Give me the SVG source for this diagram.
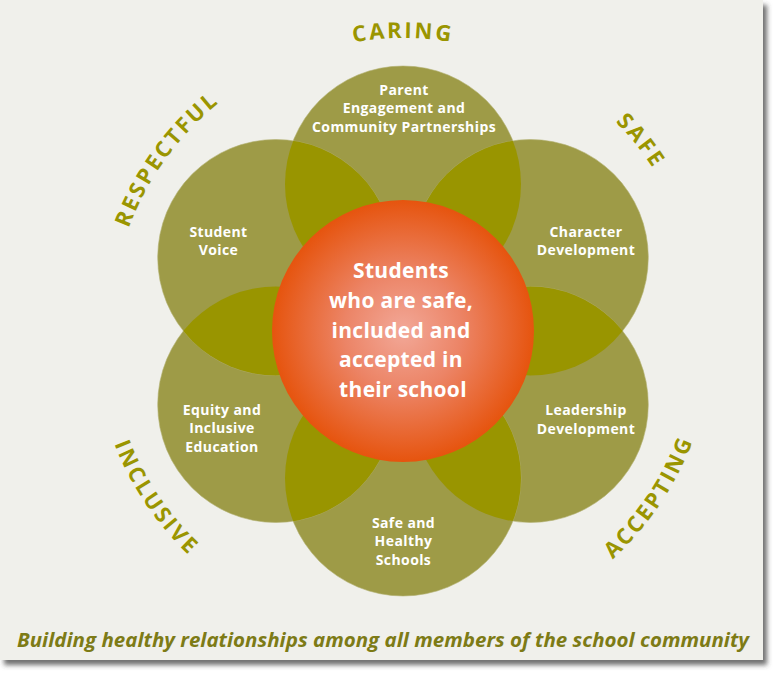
<svg xmlns="http://www.w3.org/2000/svg" width="778" height="676" viewBox="0 0 778 676">
<defs>
<filter id="sh" x="-5%" y="-5%" width="115%" height="115%">
<feDropShadow dx="4" dy="5" stdDeviation="2.5" flood-color="#404040" flood-opacity="0.75"/>
</filter>
<radialGradient id="og" cx="403" cy="331" r="131" gradientUnits="userSpaceOnUse">
<stop offset="0" stop-color="#f2a898"/>
<stop offset="0.45" stop-color="#ec8466"/>
<stop offset="1" stop-color="#e6540e"/>
</radialGradient>
<clipPath id="cT"><circle cx="403" cy="184" r="118"/></clipPath>
<clipPath id="cUR"><circle cx="530.3" cy="257.5" r="118"/></clipPath>
<clipPath id="cLR"><circle cx="530.3" cy="404.5" r="118"/></clipPath>
<clipPath id="cB"><circle cx="403" cy="478" r="118"/></clipPath>
<clipPath id="cLL"><circle cx="275.7" cy="404.5" r="118"/></clipPath>
<clipPath id="cUL"><circle cx="275.7" cy="257.5" r="118"/></clipPath>
<path id="pCaring" d="M149.3,184.5 A293,293 0 0 1 656.7,184.5"/>
<path id="pSafe" d="M357.4,36.8 A298,298 0 0 1 680.9,440.2"/>
<path id="pResp" d="M135.3,450.2 A293,293 0 0 1 433.6,39.6"/>
<path id="pIncl" d="M124.4,195.1 A310,310 0 0 0 424.6,640.3"/>
<path id="pAcc" d="M381.4,640.3 A310,310 0 0 0 681.6,195.1"/>
</defs>
<style>
.petal{fill:#9e9b47;stroke:#b4b174;stroke-width:0.6}
.ov{fill:#999500}
.lbl{font-family:"Open Sans","Liberation Sans",sans-serif;font-weight:bold;font-size:14px;fill:#ffffff;text-anchor:middle;letter-spacing:0.4px}
.ctr{font-family:"Open Sans","Liberation Sans",sans-serif;font-weight:bold;font-size:21px;fill:#ffffff;text-anchor:middle;letter-spacing:0.3px}
.arc{font-family:"Open Sans","Liberation Sans",sans-serif;font-weight:bold;font-size:22px;fill:#9a9500;letter-spacing:2.5px}
.cap{font-family:"Open Sans","Liberation Sans",sans-serif;font-weight:bold;font-style:italic;font-size:20px;fill:#7d7b16}
</style>
<rect x="0" y="0" width="763" height="660" fill="#f0f0eb" filter="url(#sh)"/>

<g id="petal-parent">
<circle class="petal" cx="403" cy="184" r="118"/>
<text class="lbl" x="404" y="95">Parent</text>
<text class="lbl" x="404" y="113">Engagement and</text>
<text class="lbl" x="404" y="131.5">Community Partnerships</text>
</g>
<g id="petal-character">
<circle class="petal" cx="530.3" cy="257.5" r="118"/>
<text class="lbl" x="586" y="236.5">Character</text>
<text class="lbl" x="586" y="255">Development</text>
</g>
<g id="petal-leadership">
<circle class="petal" cx="530.3" cy="404.5" r="118"/>
<text class="lbl" x="586" y="415">Leadership</text>
<text class="lbl" x="586" y="433.5">Development</text>
</g>
<g id="petal-safe">
<circle class="petal" cx="403" cy="478" r="118"/>
<text class="lbl" x="403.5" y="527.5">Safe and</text>
<text class="lbl" x="403.5" y="546">Healthy</text>
<text class="lbl" x="403.5" y="564.5">Schools</text>
</g>
<g id="petal-equity">
<circle class="petal" cx="275.7" cy="404.5" r="118"/>
<text class="lbl" x="222" y="414.5">Equity and</text>
<text class="lbl" x="222" y="433">Inclusive</text>
<text class="lbl" x="222" y="451.5">Education</text>
</g>
<g id="petal-voice">
<circle class="petal" cx="275.7" cy="257.5" r="118"/>
<text class="lbl" x="218.5" y="236.5">Student</text>
<text class="lbl" x="218.5" y="255">Voice</text>
</g>

<g id="overlaps">
<circle class="ov" cx="530.3" cy="257.5" r="118" clip-path="url(#cT)"/>
<circle class="ov" cx="530.3" cy="404.5" r="118" clip-path="url(#cUR)"/>
<circle class="ov" cx="403" cy="478" r="118" clip-path="url(#cLR)"/>
<circle class="ov" cx="275.7" cy="404.5" r="118" clip-path="url(#cB)"/>
<circle class="ov" cx="275.7" cy="257.5" r="118" clip-path="url(#cLL)"/>
<circle class="ov" cx="403" cy="184" r="118" clip-path="url(#cUL)"/>
</g>

<g id="center">
<circle cx="403" cy="331" r="131" fill="url(#og)"/>
<text class="ctr" x="401" y="278">Students</text>
<text class="ctr" x="401" y="308">who are safe,</text>
<text class="ctr" x="401" y="338">included and</text>
<text class="ctr" x="401" y="367">accepted in</text>
<text class="ctr" x="403" y="397">their school</text>
</g>

<g id="values">
<text class="arc"><textPath href="#pCaring" startOffset="50%" text-anchor="middle">CARING</textPath></text>
<text class="arc"><textPath href="#pSafe" startOffset="50%" text-anchor="middle">SAFE</textPath></text>
<text class="arc"><textPath href="#pResp" startOffset="50%" text-anchor="middle">RESPECTFUL</textPath></text>
<text class="arc"><textPath href="#pIncl" startOffset="50%" text-anchor="middle">INCLUSIVE</textPath></text>
<text class="arc"><textPath href="#pAcc" startOffset="50%" text-anchor="middle">ACCEPTING</textPath></text>
</g>

<g id="caption">
<text class="cap" x="17" y="647" textLength="732" lengthAdjust="spacingAndGlyphs">Building healthy relationships among all members of the school community</text>
</g>
</svg>
